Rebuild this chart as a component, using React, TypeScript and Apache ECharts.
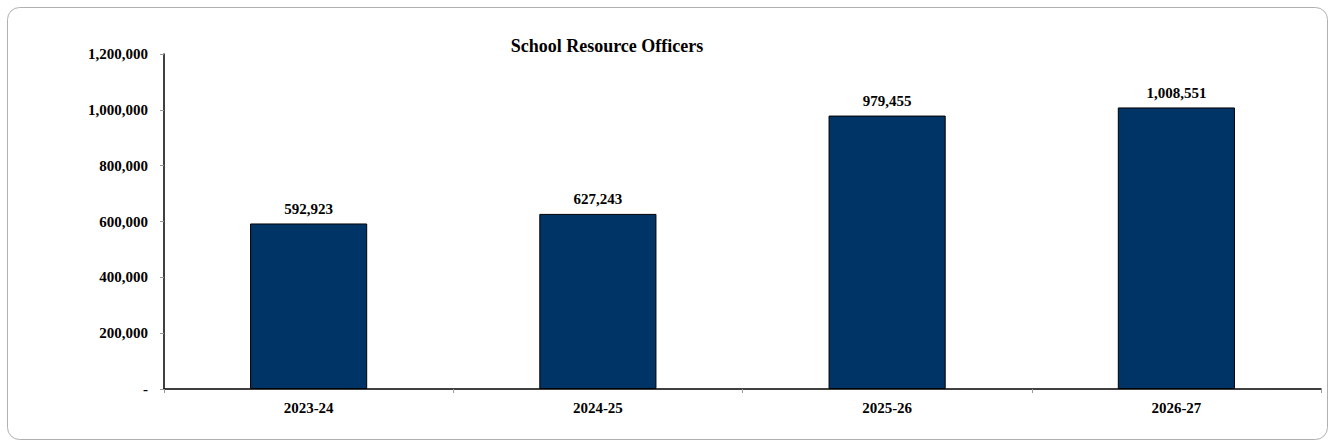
import React, { useEffect, useRef } from "react";
import * as echarts from "echarts";

const categories = ["2023-24", "2024-25", "2025-26", "2026-27"];
const values = [592923, 627243, 979455, 1008551];
const titleText = "School Resource Officers";

const fmt = (v: number) => (v === 0 ? "-" : v.toLocaleString("en-US"));

export default function App() {
  const ref = useRef<HTMLDivElement>(null);
  useEffect(() => {
    const chart = echarts.init(ref.current!, null, { renderer: "svg" });
    const font = "'Liberation Serif', 'Times New Roman', serif";
    chart.setOption({
      animation: false,
      textStyle: { fontFamily: font },
      title: {
        text: titleText,
        left: 602,
        top: 32,
        textAlign: "center",
        textStyle: { fontFamily: font, fontSize: 18, fontWeight: "bold", color: "#000" },
      },
      graphic: [
        {
          type: "rect",
          shape: { x: 7.5, y: 7.5, width: 1320, height: 432, r: 12 },
          style: { fill: "none", stroke: "#b0b0b0", lineWidth: 1 },
          silent: true,
        },
      ],
      grid: { left: 164, right: 14, top: 54, bottom: 57 },
      xAxis: {
        type: "category",
        data: categories,
        axisLine: { lineStyle: { color: "#000", width: 1.5 } },
        axisTick: { show: true, alignWithLabel: false, length: 4, lineStyle: { color: "#999" } },
        axisLabel: { fontFamily: font, fontSize: 15, fontWeight: "bold", color: "#000", margin: 11 },
      },
      yAxis: {
        type: "value",
        min: 0,
        max: 1200000,
        interval: 200000,
        axisLine: { show: true, lineStyle: { color: "#000", width: 1.5 } },
        axisTick: { show: true, length: 4, lineStyle: { color: "#999" } },
        splitLine: { show: false },
        axisLabel: {
          fontFamily: font,
          fontSize: 15,
          fontWeight: "bold",
          color: "#000",
          margin: 16,
          formatter: (v: number) => fmt(v),
        },
      },
      series: [
        {
          type: "bar",
          data: values,
          barWidth: "40.5%",
          itemStyle: { color: "#003366", borderColor: "#000", borderWidth: 1 },
          label: {
            show: true,
            position: "top",
            distance: 7,
            fontFamily: font,
            fontSize: 15,
            fontWeight: "bold",
            color: "#000",
            formatter: (p: any) => fmt(p.value),
          },
        },
      ],
    });
    return () => chart.dispose();
  }, []);
  return (
    <div
      ref={ref}
      style={{ position: "absolute", left: 0, top: 0, width: 1335, height: 446, background: "#fff" }}
    />
  );
}
